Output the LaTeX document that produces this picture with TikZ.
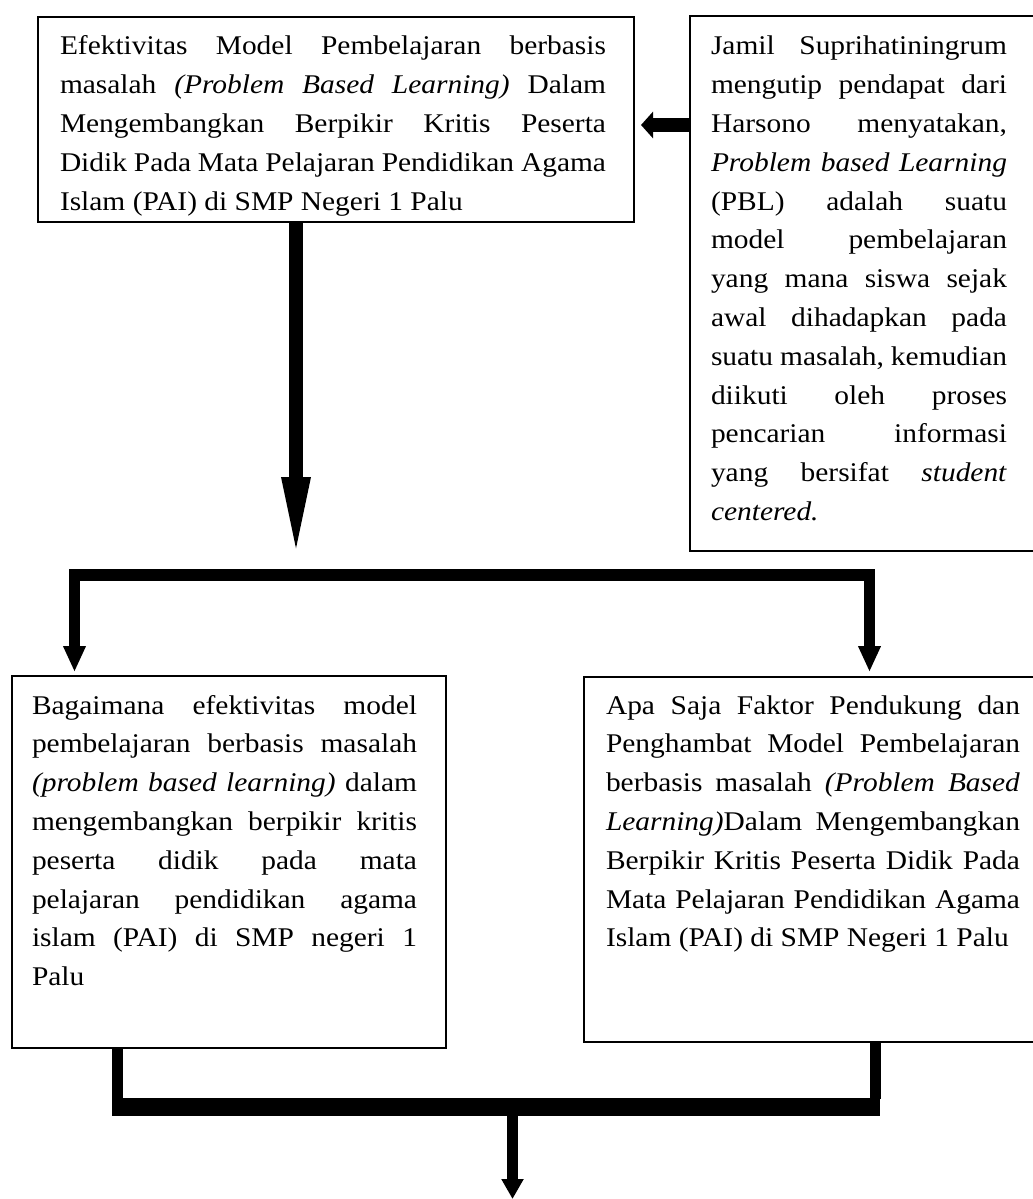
\documentclass[tikz,border=0pt]{standalone}
\usepackage{fontspec}
\setmainfont{Liberation Serif}[FakeStretch=1.09]
\usetikzlibrary{arrows.meta,calc}
\newcommand{\jl}[1]{{\spaceskip=0.25em plus 0.5em minus 0.14em\makebox[\linewidth][s]{#1}}\\}
\tikzset{
  box/.style={draw, line width=2.2pt, rectangle, anchor=north west, inner sep=0pt, outer sep=0pt},
  txt/.style={anchor=base west, inner sep=0pt, outer sep=0pt},
}
\newcommand{\bodyfont}{\fontsize{27}{38.8}\selectfont}
\begin{document}
\begin{tikzpicture}[x=1pt,y=-1pt]
\useasboundingbox (0,0) rectangle (1033,1199);
% boxes
\node[box, minimum width=596pt, minimum height=205pt] (tl) at (38,17) {};
\node[box, minimum width=360pt, minimum height=535pt] (tr) at (690,16) {};
\node[box, minimum width=434pt, minimum height=372pt] (bl) at (12,676) {};
\node[box, minimum width=460pt, minimum height=365pt] (br) at (584,677) {};
% texts
\node[txt] (tlt) at (60,55) {\parbox[t]{546pt}{\bodyfont
\jl{Efektivitas Model Pembelajaran berbasis}
\jl{masalah \textit{(Problem Based Learning)} Dalam}
\jl{Mengembangkan Berpikir Kritis Peserta}
\jl{Didik Pada Mata Pelajaran Pendidikan Agama}
Islam (PAI) di SMP Negeri 1 Palu}};
\node[txt] (trt) at (711,55) {\parbox[t]{296pt}{\bodyfont
\jl{Jamil Suprihatiningrum}
\jl{mengutip pendapat dari}
\jl{Harsono menyatakan,}
\jl{\textit{Problem based Learning}}
\jl{(PBL) adalah suatu}
\jl{model pembelajaran}
\jl{yang mana siswa sejak}
\jl{awal dihadapkan pada}
\jl{suatu masalah, kemudian}
\jl{diikuti oleh proses}
\jl{pencarian informasi}
\jl{yang bersifat \textit{student}}
\textit{centered.}}};
\node[txt] (blt) at (32,714) {\parbox[t]{385pt}{\bodyfont
\jl{Bagaimana efektivitas model}
\jl{pembelajaran berbasis masalah}
\jl{\textit{(problem based learning)} dalam}
\jl{mengembangkan berpikir kritis}
\jl{peserta didik pada mata}
\jl{pelajaran pendidikan agama}
\jl{islam (PAI) di SMP negeri 1}
Palu}};
\node[txt] (brt) at (606,714) {\parbox[t]{414pt}{\bodyfont
\jl{Apa Saja Faktor Pendukung dan}
\jl{Penghambat Model Pembelajaran}
\jl{berbasis masalah \textit{(Problem Based}}
\jl{\textit{Learning)}Dalam Mengembangkan}
\jl{Berpikir Kritis Peserta Didik Pada}
\jl{Mata Pelajaran Pendidikan Agama}
Islam (PAI) di SMP Negeri 1 Palu}};
% coordinates
\coordinate (sa) at (641,125);
\coordinate (a1) at (296,563);
\coordinate (k1) at (74.5,575);
\coordinate (k2) at (869.5,575);
\coordinate (t1) at (74.5,672);
\coordinate (t2) at (869.5,672);
\coordinate (c1) at (117.5,1099);
\coordinate (c2) at (875,1099);
\coordinate (m1) at (112,1107);
\coordinate (m2) at (880,1107);
\coordinate (m3) at (512.5,1107);
\coordinate (endp) at (512.5,1199);
% connectors
\draw[line width=14pt, -{Triangle[length=12pt,width=26pt]}] (tr.west |- sa) -- (sa);
\draw[line width=14pt, -{Triangle[length=86pt,width=25pt]}] (tl.south -| a1) -- (a1);
\draw[line width=11.5pt, {Triangle[length=26pt,width=21pt]}-{Triangle[length=26pt,width=21pt]}] (t1) -- (k1) -- (k2) -- (t2);
\draw[line width=11pt] (bl.south -| c1) -- (c1);
\draw[line width=11pt] (br.south -| c2) -- (c2);
\draw[line width=18pt] (m1) -- (m2);
\draw[line width=11pt, -{Triangle[length=20pt,width=21pt]}] (m3) -- (endp);
\end{tikzpicture}
\end{document}
